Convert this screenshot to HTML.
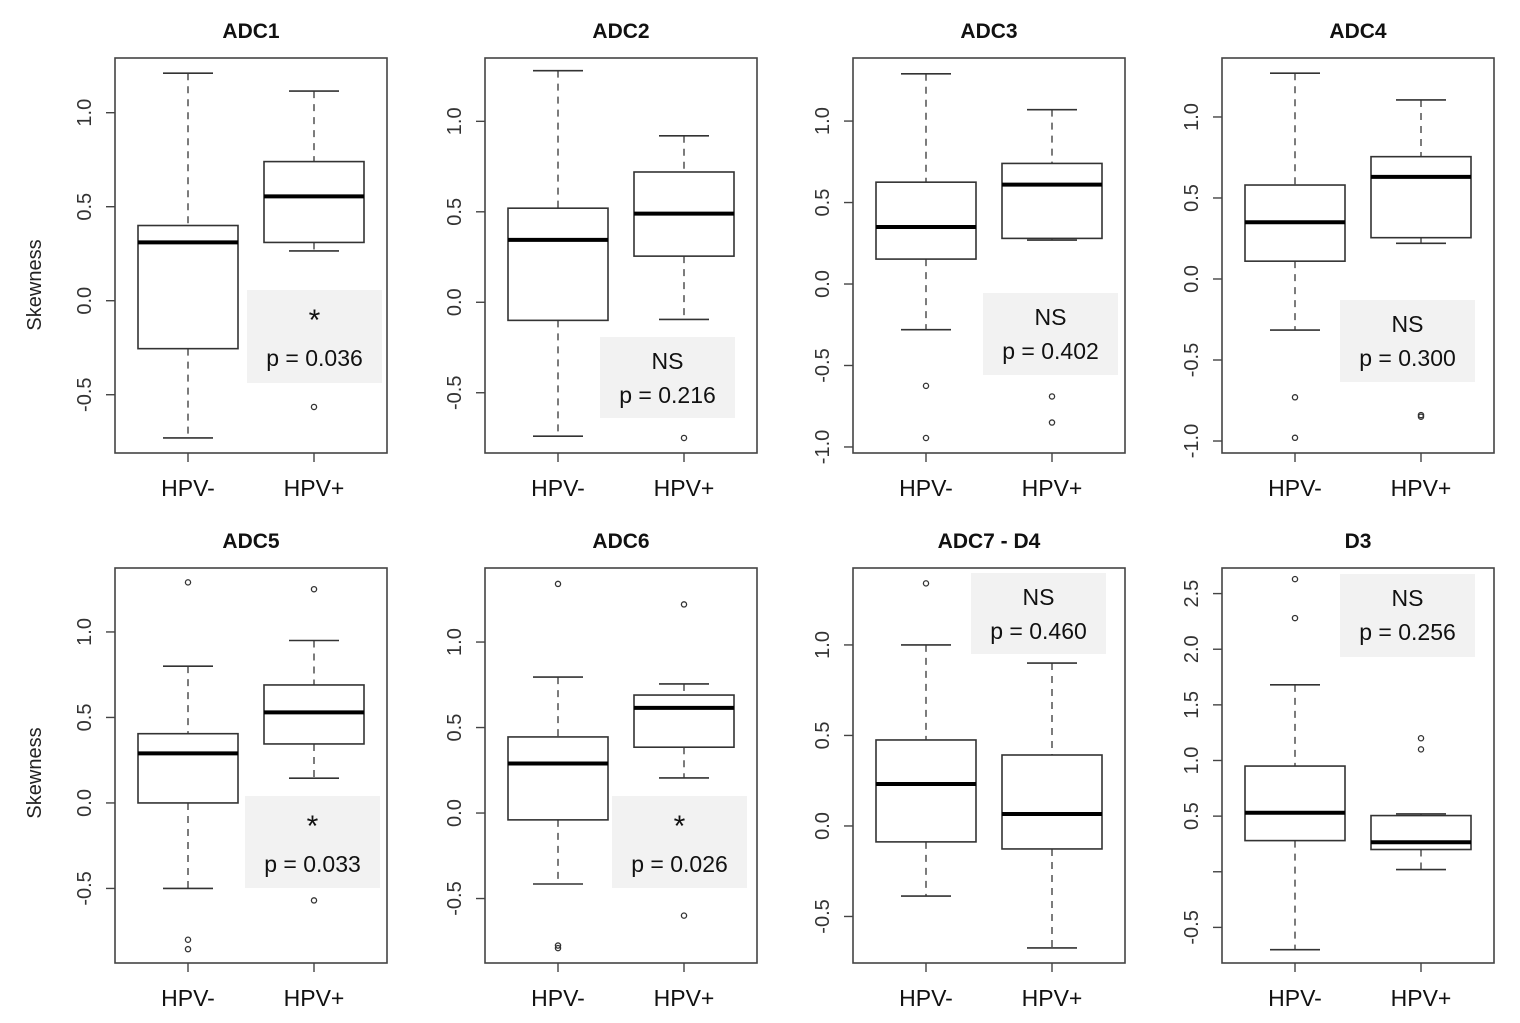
<!DOCTYPE html>
<html><head><meta charset="utf-8">
<style>
html,body{margin:0;padding:0;background:#fff;}
svg{display:block;}
</style></head>
<body>
<svg id="chart" width="1520" height="1023" viewBox="0 0 1520 1023" xmlns="http://www.w3.org/2000/svg"></svg>
<script>
// ---- data ----
const titles = ["ADC1","ADC2","ADC3","ADC4","ADC5","ADC6","ADC7 - D4","D3"];
const groups = ["HPV-","HPV+"];
// y-axis domains [top, bottom] per panel
const yTop =    [1.291, 1.35, 1.387, 1.364, 1.374, 1.433, 1.425, 2.73];
const yBottom = [-0.81, -0.833, -1.037, -1.074, -0.936, -0.877, -0.757, -0.82];
const tickValues = [
 [-0.5,0,0.5,1.0],[-0.5,0,0.5,1.0],[-1,-0.5,0,0.5,1.0],[-1,-0.5,0,0.5,1.0],
 [-0.5,0,0.5,1.0],[-0.5,0,0.5,1.0],[-0.5,0,0.5,1.0],[-0.5,0,0.5,1,1.5,2,2.5]
];
const tickLabels = [
 ["-0.5","0.0","0.5","1.0"],["-0.5","0.0","0.5","1.0"],["-1.0","-0.5","0.0","0.5","1.0"],["-1.0","-0.5","0.0","0.5","1.0"],
 ["-0.5","0.0","0.5","1.0"],["-0.5","0.0","0.5","1.0"],["-0.5","0.0","0.5","1.0"],["-0.5","","0.5","1.0","1.5","2.0","2.5"]
];
// [lowerWhisker, q1, median, q3, upperWhisker] per panel: HPV- and HPV+
const statsNeg = [
 [-0.73,-0.255,0.31,0.40,1.21],[-0.74,-0.10,0.345,0.52,1.28],[-0.28,0.153,0.35,0.625,1.29],[-0.315,0.11,0.35,0.58,1.27],
 [-0.5,0.0,0.29,0.405,0.80],[-0.415,-0.04,0.29,0.445,0.795],[-0.387,-0.088,0.232,0.475,1.0],[-0.70,0.28,0.53,0.95,1.68]
];
const statsPos = [
 [0.265,0.31,0.555,0.74,1.115],[-0.095,0.255,0.49,0.72,0.92],[0.27,0.28,0.61,0.74,1.07],[0.22,0.255,0.63,0.755,1.105],
 [0.145,0.345,0.53,0.69,0.95],[0.205,0.385,0.615,0.69,0.755],[-0.674,-0.127,0.066,0.392,0.90],[0.02,0.2,0.265,0.505,0.52]
];
const outliersNeg = [[],[],[-0.625,-0.945],[-0.73,-0.98],[1.29,-0.80,-0.855],[1.34,-0.775,-0.79],[1.34],[2.63,2.28]];
const outliersPos = [[-0.565],[-0.75],[-0.69,-0.85],[-0.84,-0.85],[1.25,-0.57],[1.22,-0.60],[],[1.20,1.10]];
const sigLabels = ["*","NS","NS","NS","*","*","NS","NS"];
const pLabels = ["p = 0.036","p = 0.216","p = 0.402","p = 0.300","p = 0.033","p = 0.026","p = 0.460","p = 0.256"];

// ---- layout ----
const svg = document.getElementById('chart');
const NS = 'http://www.w3.org/2000/svg';
const colLeft = [115,485,853,1222];
const rowTop = [58,568];
const FW = 272, FH = 395;
const annPos = [[247,290],[600,337],[983,293],[1340,300],[245,796],[612,796],[971,573],[1340,574]];
const annH = [93,81,82,82,92,92,81,83];

function el(tag, attrs, parent){
  const e = document.createElementNS(NS, tag);
  for (const k in attrs) e.setAttribute(k, attrs[k]);
  (parent||svg).appendChild(e);
  return e;
}

for (let p = 0; p < 8; p++) {
  const L = colLeft[p%4], T = rowTop[Math.floor(p/4)];
  const g = el('g', {});
  
  
  const y = v => T + (yTop[p] - v) / (yTop[p] - yBottom[p]) * FH;
  const xc = [L + 73, L + 199];

  const [ax, ay] = annPos[p];
  const ann = el('g', {}, g);
  
  
  el('rect', {x:ax, y:ay, width:135, height:annH[p], fill:'#f2f2f2'}, ann);
  const sig = sigLabels[p] === '*';
  const t1 = el('text', {x:ax+67.5, y: sig ? ay+40 : ay+32, 'text-anchor':'middle', 'font-family':'"Liberation Sans", sans-serif', 'font-size': sig ? 30 : 23, fill:'#111'}, ann);
  t1.textContent = sigLabels[p];
  const t2 = el('text', {x:ax+67.5, y: sig ? ay+76 : ay+66, 'text-anchor':'middle', 'font-family':'"Liberation Sans", sans-serif', 'font-size':23, fill:'#111'}, ann);
  t2.textContent = pLabels[p];

  const tt = el('text', {x:L+FW/2, y:T-20, 'text-anchor':'middle', 'font-family':'"Liberation Sans", sans-serif', 'font-size':21, 'font-weight':'bold', fill:'#111'}, g);
  
  
  tt.textContent = titles[p];

  const fr = el('rect', {x:L, y:T, width:FW, height:FH, fill:'none', stroke:'#444', 'stroke-width':1.6}, g);
  
  

  tickValues[p].forEach((v, i) => {
    const yy = y(v);
    el('line', {x1:L-9, x2:L, y1:yy, y2:yy, stroke:'#444', 'stroke-width':1.4}, g);
    const lb = el('text', {x:0, y:0, transform:`translate(${L-30},${yy}) rotate(-90)`, 'text-anchor':'middle', 'dominant-baseline':'central', 'font-family':'"Liberation Sans", sans-serif', 'font-size':20, fill:'#333'}, g);
    
    
    lb.textContent = tickLabels[p][i];
  });

  groups.forEach((gname, gi) => {
    el('line', {x1:xc[gi], x2:xc[gi], y1:T+FH, y2:T+FH+9, stroke:'#444', 'stroke-width':1.4}, g);
    const xl = el('text', {x:xc[gi], y:T+FH+43, 'text-anchor':'middle', 'font-family':'"Liberation Sans", sans-serif', 'font-size':23, fill:'#111'}, g);
    
    
    xl.textContent = gname;
  });

  [statsNeg[p], statsPos[p]].forEach((s, gi) => {
    const cx = xc[gi];
    const bx = el('g', {}, g);
    
    
    const [lw, q1, md, q3, uw] = s;
    el('line', {x1:cx, x2:cx, y1:y(uw), y2:y(q3), stroke:'#444', 'stroke-width':1.4, 'stroke-dasharray':'7,6'}, bx);
    el('line', {x1:cx, x2:cx, y1:y(q1), y2:y(lw), stroke:'#444', 'stroke-width':1.4, 'stroke-dasharray':'7,6'}, bx);
    el('line', {x1:cx-25, x2:cx+25, y1:y(uw), y2:y(uw), stroke:'#333', 'stroke-width':1.6}, bx);
    el('line', {x1:cx-25, x2:cx+25, y1:y(lw), y2:y(lw), stroke:'#333', 'stroke-width':1.6}, bx);
    el('rect', {x:cx-50, y:y(q3), width:100, height:y(q1)-y(q3), fill:'#fff', stroke:'#333', 'stroke-width':1.6}, bx);
    el('line', {x1:cx-50, x2:cx+50, y1:y(md), y2:y(md), stroke:'#000', 'stroke-width':4}, bx);
  });
  [outliersNeg[p], outliersPos[p]].forEach((arr, gi) => {
    arr.forEach(v => {
      const c = el('circle', {cx:xc[gi], cy:y(v), r:2.6, fill:'none', stroke:'#333', 'stroke-width':1.3}, g);
      
      
    });
  });
}

[285, 773].forEach(cy => {
  const t = el('text', {x:0, y:0, transform:`translate(35,${cy}) rotate(-90)`, 'text-anchor':'middle', 'dominant-baseline':'central', 'font-family':'"Liberation Sans", sans-serif', 'font-size':20, fill:'#222'});
  
  
  t.textContent = 'Skewness';
});
</script>
</body></html>
